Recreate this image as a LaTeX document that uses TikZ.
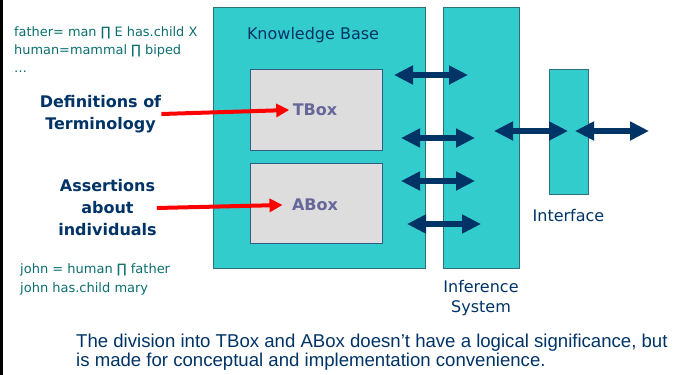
\documentclass[tikz,border=0pt]{standalone}
\usepackage{fontspec}
\setmainfont{DejaVu Sans}
\newfontfamily\notefont{Liberation Sans}
\usepackage{tikz}
\usetikzlibrary{shapes,
                arrows.meta,
                positioning}
\definecolor{kbteal}{HTML}{33CCCC}
\definecolor{kbedge}{HTML}{2F6F80}
\definecolor{kbnavy}{HTML}{003366}
\definecolor{kbgreen}{HTML}{0B6E6E}
\definecolor{kbgrey}{HTML}{DDDDDD}
\definecolor{kbpurple}{HTML}{666699}
\tikzstyle{tealbox} = [rectangle, draw=kbedge, fill=kbteal, line width=0.8pt, inner sep=0pt]
\tikzstyle{greybox} = [rectangle, draw=kbnavy!80, fill=kbgrey, line width=0.8pt, minimum width=132pt, inner sep=0pt]
\tikzstyle{boxtext} = [text=kbpurple, font=\fontsize{16}{20}\selectfont\bfseries]
\tikzstyle{kbtext} = [text=kbnavy, align=center, font=\fontsize{16}{20}\selectfont]
\tikzstyle{lead} = [text=kbnavy, align=center, inner sep=0pt, font=\fontsize{16}{22}\selectfont\bfseries]
\tikzstyle{axiom} = [text=kbgreen, align=left, anchor=north west, inner sep=0pt]
\tikzstyle{redarrow} = [red, line width=4pt, -{Triangle[width=13pt,length=13pt]}]
\tikzstyle{dblarrow} = [kbnavy, line width=6pt, {Triangle[width=18pt,length=19pt]}-{Triangle[width=18pt,length=19pt]}]

\begin{document}
\begin{tikzpicture}[x=1pt, y=-1pt, node distance=8pt]
        \useasboundingbox (0,0) rectangle (673,375);
        \draw [line width=3pt] (1.5,0) -- (1.5,375);
        % boxes
        \node (kb) [tealbox, minimum width=212pt, minimum height=261pt] at (319,137.5) {};
        \node (inf) [tealbox, minimum width=76pt, minimum height=261pt] at (481,137.5) {};
        \node (intf) [tealbox, minimum width=39pt, minimum height=125pt] at (568.5,131.5) {};
        \node (tbox) [greybox, minimum height=81pt] at (316,109.5) {};
        \node (abox) [greybox, minimum height=80pt] at (316,203) {};
        \node (kbname) [kbtext] at (313,35) {Knowledge Base};
        \node (tboxname) [boxtext] at (315,110) {TBox};
        \node (aboxname) [boxtext] at (315,205) {ABox};
        \node (infname) [kbtext, below=8pt of inf] {Inference\\System};
        \node (intfname) [kbtext, below=11pt of intf] {Interface};
        % left side
        \node (tdefs) [axiom, font=\fontsize{12.9}{18}\selectfont] at (14,26) {father= man ∏ E has.child X\\human=mammal ∏ biped\\…};
        \node (defs) [lead] at (100.5,114) {Definitions of\\Terminology};
        \node (asrt) [lead] at (107.5,208) {Assertions\\about\\individuals};
        \node (adefs) [axiom, font=\fontsize{13}{19.5}\selectfont] at (20,263) {john = human ∏ father\\john has.child mary};
        \node (note) [axiom, text=kbnavy, font=\notefont\fontsize{18.6}{19.5}\selectfont] at (76,333.5) {The division into TBox and ABox doesn’t have a logical significance, but\\is made for conceptual and implementation convenience.};
        \draw [redarrow] (defs.east) -- (tboxname.west);
        \draw [redarrow] (asrt.east) -- ([xshift=-6pt]aboxname.west);
        % arrows to the inference system
        \foreach \n/\x/\y in {1/394/75, 2/401/138, 3/401/181, 4/407/224} {
            \coordinate (kl\n) at (\x,\y);
            \coordinate (kr\n) at (\x+74,\y);
            \draw [dblarrow] (kl\n) -- (kr\n);
        }
        \coordinate (il) at (494,131);
        \coordinate (ir) at (568,131);
        \coordinate (ol) at (575,131);
        \coordinate (or) at (649,131);
        \draw [dblarrow] (il) -- (ir);
        \draw [dblarrow] (ol) -- (or);
\end{tikzpicture}
\end{document}
